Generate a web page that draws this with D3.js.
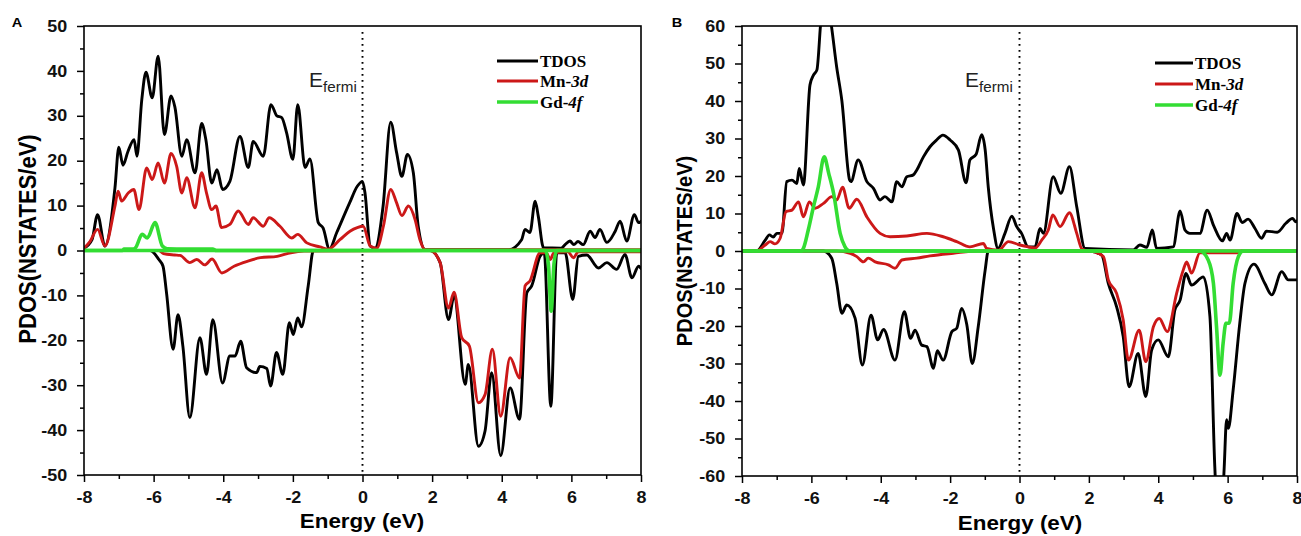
<!DOCTYPE html>
<html><head><meta charset="utf-8">
<script src="https://cdn.jsdelivr.net/npm/d3@7"></script>
<style>body{margin:0;background:#fff}</style>
</head><body><svg id="c" width="1301" height="536"></svg>
<script>
// ---------- data ----------
const energyTicks = [-8,-6,-4,-2,0,2,4,6,8];
const energyMinor = [-7,-5,-3,-1,1,3,5,7];
const yTicksA = [-50,-40,-30,-20,-10,0,10,20,30,40,50];
const yMinorA = [-45,-35,-25,-15,-5,5,15,25,35,45];
const yTicksB = [-60,-50,-40,-30,-20,-10,0,10,20,30,40,50,60];
const yMinorB = [-55,-45,-35,-25,-15,-5,5,15,25,35,45,55];
const seriesNames = ["TDOS","Mn-","Gd-"];
const seriesItalic = ["","3d","4f"];
const seriesColors = ["#000000","#cc1818","#33dd33"];
const panelLetters = ["A","B"];

// Panel A  [energy (eV), PDOS]
const aTdosUp = [[-8,0.5],[-7.77,2.4],[-7.61,8],[-7.4,1],[-7.11,14],[-7.0,23],[-6.88,19],[-6.74,22],[-6.56,24.7],[-6.48,21],[-6.34,33.6],[-6.22,39.7],[-6.04,34],[-5.87,43.3],[-5.69,25.8],[-5.5,34.4],[-5.39,32],[-5.19,21],[-5.05,24.7],[-4.81,17.3],[-4.62,28.3],[-4.5,24.7],[-4.33,15],[-4.18,18],[-4.02,13.6],[-3.81,15.4],[-3.52,25.4],[-3.28,18.5],[-3.14,24.3],[-2.85,21],[-2.63,32.5],[-2.46,30],[-2.32,29.6],[-2.18,26.2],[-2.0,20.3],[-1.86,32.5],[-1.65,18.5],[-1.51,20.4],[-1.27,6.2],[-1.13,5],[-0.95,0.3],[-0.74,4],[-0.37,10.6],[-0.15,14.3],[0.0,15.4],[0.07,12.9],[0.22,1],[0.36,0.5],[0.59,9.8],[0.81,28.6],[0.98,21.8],[1.13,16.5],[1.29,21.4],[1.46,17.3],[1.6,5.4],[1.8,0.2],[4.2,0.2],[4.57,2.4],[4.67,4.7],[4.81,4],[4.96,11],[5.05,7.6],[5.2,0.6],[5.7,0.5],[5.82,1.3],[5.96,2.1],[6.07,1.3],[6.19,2],[6.34,1.3],[6.54,4.3],[6.68,2.9],[6.82,4.7],[7.02,1.8],[7.26,4.3],[7.4,6.5],[7.59,2.1],[7.81,8],[7.93,6.2],[8,6.5]];
const aTdosDn = [[-8,0],[-6.1,0],[-5.85,-2],[-5.73,-3.5],[-5.63,-9.4],[-5.44,-22],[-5.3,-14.3],[-5.16,-21.3],[-4.96,-37.2],[-4.67,-19.4],[-4.48,-27.6],[-4.3,-15.4],[-4.02,-29.5],[-3.81,-23.5],[-3.66,-23.5],[-3.5,-20.2],[-3.33,-26.1],[-3.04,-27.2],[-2.95,-25.8],[-2.75,-26.3],[-2.64,-30.2],[-2.47,-22.7],[-2.29,-27.6],[-2.1,-16.1],[-1.99,-18.7],[-1.86,-15],[-1.75,-17],[-1.56,-7.9],[-1.41,0],[1.94,0],[2.23,-2.7],[2.47,-15.4],[2.63,-10.2],[2.95,-29.8],[3.04,-25.4],[3.33,-43.6],[3.52,-40.2],[3.71,-27.2],[3.97,-45.7],[4.24,-30.6],[4.51,-37.6],[4.72,-9.4],[4.86,-7.9],[5.1,-1.3],[5.22,-0.5],[5.41,-34.7],[5.58,-0.5],[5.82,-0.5],[6.04,-10.9],[6.2,-1.3],[6.44,-1],[6.78,-3.9],[7.02,-2.7],[7.3,-4.2],[7.54,-0.9],[7.74,-6.1],[7.93,-3.5],[8,-4]];
const aMnUp = [[-8,0.5],[-7.83,2],[-7.61,4.7],[-7.4,1],[-7.11,9.9],[-7.02,13.2],[-6.92,11],[-6.73,12.8],[-6.57,13.6],[-6.42,9.1],[-6.2,18.4],[-6.04,15.8],[-5.87,19.5],[-5.69,15],[-5.5,21.6],[-5.34,18.8],[-5.19,12.8],[-5.05,16.2],[-4.81,9.5],[-4.62,17.3],[-4.48,12.8],[-4.33,9.1],[-4.21,9.9],[-4.05,5.1],[-3.81,5.8],[-3.57,8.8],[-3.28,5.8],[-3.14,7.3],[-2.85,5.4],[-2.68,7.3],[-2.37,5.4],[-2.03,2.8],[-1.86,3.6],[-1.6,1.7],[-1.22,0.8],[-0.98,0.3],[-0.65,2.4],[-0.36,4.3],[-0.15,5.1],[0.02,5.4],[0.22,1],[0.41,0.5],[0.6,5.4],[0.81,13.6],[0.98,10.6],[1.13,7.8],[1.32,9.9],[1.51,6.9],[1.65,2.4],[1.8,0.2],[8,0.2]];
const aMnDn = [[-8,0],[-5.85,0],[-5.72,-0.7],[-5.4,-1],[-5.24,-1.1],[-4.96,-2.7],[-4.76,-2],[-4.53,-3.2],[-4.32,-1.9],[-4.04,-5],[-3.69,-3.5],[-3.31,-2.4],[-2.93,-1.6],[-2.45,-1.3],[-2.06,-0.5],[-1.68,-0.15],[1.94,0],[2.23,-2.7],[2.47,-12.8],[2.63,-9.3],[2.85,-19.4],[3.07,-21.3],[3.33,-33.9],[3.52,-32.1],[3.73,-22],[3.97,-36.9],[4.24,-23.9],[4.51,-28.4],[4.67,-7.9],[4.81,-6.8],[5.1,-0.5],[5.28,-0.5],[5.39,-2],[5.5,-0.5],[5.9,-0.3],[6.06,-1.6],[6.2,-0.3],[8,-0.3]];
const aGdUp = [[-8,0],[-6.9,0],[-6.85,0.3],[-6.6,0.3],[-6.52,0.6],[-6.33,3.6],[-6.18,2.8],[-5.96,6.2],[-5.75,1],[-5.61,0.4],[-4.3,0.3],[-4.2,0],[8,0]];
const aGdDn = [[-8,0],[5.25,0],[5.34,-3],[5.42,-13.5],[5.5,-3],[5.58,0],[8,0]];

// Panel B
const bTdosUp = [[-8,0],[-7.57,0.1],[-7.33,2.9],[-7.21,4.3],[-7.1,3.7],[-7.0,4.7],[-6.85,4.7],[-6.71,18.5],[-6.56,18.9],[-6.42,18],[-6.35,22],[-6.23,17.6],[-6.04,44.3],[-5.94,46.9],[-5.84,48.3],[-5.72,62],[-5.6,68],[-5.47,63],[-5.27,49],[-5.12,40],[-4.9,19],[-4.86,18.5],[-4.65,24.3],[-4.4,18.5],[-4.21,16.7],[-4.02,13.6],[-3.88,14.5],[-3.68,13.1],[-3.54,18.5],[-3.39,17.1],[-3.25,19.8],[-3.06,20.3],[-2.96,21.6],[-2.77,25.1],[-2.58,27.8],[-2.39,29.6],[-2.21,30.9],[-2.0,29.6],[-1.76,26.9],[-1.54,18.2],[-1.43,24.3],[-1.25,25.8],[-1.09,31],[-0.99,27],[-0.9,17],[-0.75,6],[-0.62,0.7],[-0.42,4.7],[-0.22,9.3],[-0.08,6.5],[0.06,4.7],[0.25,1.1],[0.45,1.1],[0.59,6],[0.69,4.7],[0.97,19.8],[1.19,15.4],[1.44,22.5],[1.65,11.8],[1.89,0.7],[3.28,0.3],[3.47,1.6],[3.67,1],[3.83,5.6],[3.95,0.7],[4.43,1.1],[4.63,10.7],[4.77,5.6],[4.91,4.7],[5.2,4.7],[5.41,10.9],[5.6,6.7],[5.85,2.7],[5.97,4.7],[6.07,2.9],[6.27,10],[6.42,7.6],[6.59,8.5],[6.79,6],[6.98,3.4],[7.12,5.3],[7.43,5],[7.68,7.4],[7.87,8.7],[7.96,7.8],[8,8]];
const bTdosDn = [[-8,0],[-5.65,0],[-5.41,-2],[-5.27,-8.6],[-5.12,-16.6],[-4.98,-14.4],[-4.74,-17.9],[-4.53,-30.4],[-4.28,-17.1],[-4.09,-23.7],[-3.92,-20.9],[-3.59,-29.1],[-3.32,-16.2],[-3.14,-23.3],[-3.01,-21.1],[-2.82,-25.1],[-2.67,-25.5],[-2.48,-31.3],[-2.37,-26.6],[-2.2,-29.1],[-1.95,-21.5],[-1.81,-20.6],[-1.67,-15.3],[-1.52,-19.6],[-1.36,-30],[-1.19,-20.2],[-0.99,-5.1],[-0.9,0],[2.03,0],[2.37,-1.1],[2.56,-8.6],[2.8,-14.9],[2.99,-22.8],[3.16,-36.2],[3.42,-27.3],[3.64,-38.8],[3.81,-26.4],[4.0,-23.7],[4.29,-28.2],[4.48,-15.7],[4.63,-13.1],[4.8,-6],[4.96,-9.1],[5.3,-6.9],[5.49,-17.5],[5.63,-57.5],[5.72,-72],[5.82,-72],[5.9,-58],[5.97,-45],[6.02,-47.3],[6.16,-37],[6.35,-19.3],[6.5,-8.6],[6.76,-3.5],[7.07,-8.6],[7.27,-11.7],[7.56,-5.5],[7.75,-7.7],[8,-7.7]];
const bMnUp = [[-8,0],[-7.57,0.1],[-7.33,1.6],[-7.19,2.5],[-7.05,1.9],[-6.9,3.4],[-6.73,10.5],[-6.56,10.9],[-6.37,13.1],[-6.23,9.1],[-6.06,13.1],[-5.89,11.4],[-5.65,12.7],[-5.41,14.5],[-5.27,13.6],[-5.1,17],[-4.91,11.4],[-4.69,13.8],[-4.4,9.1],[-4.02,4.7],[-3.73,3.8],[-3.25,4],[-2.67,4.7],[-2.2,3.8],[-1.81,2.5],[-1.43,1.1],[-1.04,2],[-0.95,0.7],[-0.6,0.2],[-0.32,2.5],[0.01,1.6],[0.25,1.1],[0.45,0.8],[0.64,2.9],[0.83,5.6],[0.96,9.6],[1.17,6.5],[1.44,10.2],[1.65,4.7],[1.8,0.5],[2.0,0],[8,0]];
const bMnDn = [[-8,0],[-5.27,0],[-4.88,-0.6],[-4.69,-1.5],[-4.5,-2.9],[-4.36,-1.9],[-4.16,-2.9],[-3.78,-3.7],[-3.59,-4.6],[-3.39,-2.4],[-2.96,-1.9],[-2.58,-1.3],[-1.91,-0.6],[-1.2,0],[2.03,0],[2.42,-1.5],[2.56,-7.7],[2.8,-11.3],[2.99,-18.4],[3.14,-29.1],[3.45,-21.1],[3.64,-29.5],[3.86,-20.2],[4.03,-18],[4.26,-21.5],[4.53,-11.3],[4.72,-5.1],[4.82,-2.9],[4.96,-5.9],[5.2,-0.5],[6.3,-0.5],[6.4,0],[8,0]];
const bGdUp = [[-8,0],[-6.3,0],[-6.23,0.7],[-6.09,5.6],[-5.94,11.8],[-5.8,17.1],[-5.63,25.1],[-5.5,20.7],[-5.36,15.4],[-5.17,4.7],[-5.03,1.1],[-4.9,0],[8,0]];
const bGdDn = [[-8,0],[5.2,0],[5.44,-2.4],[5.59,-8.6],[5.68,-20.2],[5.78,-33.1],[5.87,-24.6],[5.95,-19.3],[6.05,-19.2],[6.16,-8.6],[6.31,-1.5],[6.45,0],[8,0]];

// ---------- drawing ----------
const svg = d3.select("#c");
const SX = 1.12; // horizontal stretch of text in reference
const sans = "'Liberation Sans', Arial, sans-serif";
const serif = "'Liberation Serif', 'Times New Roman', serif";

const panels = [
  {id:"A", x0:84, x1:641, y0:26, y1:475, dom:[-50,50], ticks:yTicksA, minor:yMinorA,
   series:[[aTdosUp,aTdosDn],[aMnUp,aMnDn],[aGdUp,aGdDn]],
   letter:[17,27], ylab:[36,239,22], xlab:[362,528], ef:[309,87], leg:[497,538,[61,81,102]]},
  {id:"B", x0:742, x1:1297, y0:26, y1:476, dom:[-60,60], ticks:yTicksB, minor:yMinorB,
   series:[[bTdosUp,bTdosDn],[bMnUp,bMnDn],[bGdUp,bGdDn]],
   letter:[677,27], ylab:[692,251,20], xlab:[1020,530], ef:[965,87], leg:[1155,1193,[63,84,105]]}
];

function stretchText(sel, x, y, txt, size, weight, anchor, fam){
  return sel.append("text")
    .attr("transform", `translate(${x},${y}) scale(${SX},1)`)
    .attr("text-anchor", anchor).attr("font-family", fam||sans)
    .attr("font-size", size).attr("font-weight", weight).text(txt);
}

panels.forEach((p, pi) => {
  const g = svg.append("g");
  const x = d3.scaleLinear().domain([-8,8]).range([p.x0,p.x1]);
  const y = d3.scaleLinear().domain(p.dom).range([p.y1,p.y0]);

  const clipId = "clip"+p.id;
  svg.append("clipPath").attr("id",clipId).append("rect")
    .attr("x",p.x0).attr("y",p.y0).attr("width",p.x1-p.x0).attr("height",p.y1-p.y0);

  // dotted Fermi line
  g.append("line").attr("x1",x(0)).attr("x2",x(0)).attr("y1",p.y0+6).attr("y2",p.y1)
    .attr("stroke","#000").attr("stroke-width",1.9).attr("stroke-dasharray","1.8,4.2");

  // curves
  const line = d3.line().x(d=>x(d[0])).y(d=>y(d[1])).curve(d3.curveMonotoneX);
  const cg = g.append("g").attr("clip-path",`url(#${clipId})`);
  const widths = [2.9,2.9,3.6];
  p.series.forEach((pair, si) => {
    pair.forEach(arr => {
      cg.append("path").attr("d", line(arr)).attr("fill","none")
        .attr("stroke", seriesColors[si]).attr("stroke-width", widths[si])
        .attr("stroke-linejoin","round").attr("stroke-linecap","round");
    });
  });

  // axes
  const fmt = d => String(d);
  const xAx = g.append("g").attr("transform",`translate(0,${p.y1})`)
    .call(d3.axisBottom(x).tickValues(energyTicks).tickSize(7).tickPadding(10).tickFormat(fmt));
  g.append("g").attr("transform",`translate(0,${p.y1})`)
    .call(d3.axisBottom(x).tickValues(energyMinor).tickSize(4).tickFormat(""));
  const yAx = g.append("g").attr("transform",`translate(${p.x0},0)`)
    .call(d3.axisLeft(y).tickValues(p.ticks).tickSize(7).tickPadding(8).tickFormat(fmt));
  g.append("g").attr("transform",`translate(${p.x0},0)`)
    .call(d3.axisLeft(y).tickValues(p.minor).tickSize(4).tickFormat(""));
  g.selectAll(".domain").remove();
  g.selectAll(".tick line").attr("stroke","#000").attr("stroke-width",1.5);
  g.selectAll(".tick text").attr("font-family",sans).attr("font-weight","bold")
    .attr("font-size",16).attr("fill","#111");
  xAx.selectAll(".tick text").attr("transform",`scale(${SX},1)`);
  yAx.selectAll(".tick text").attr("transform",`scale(${SX},1)`);

  // frame
  g.append("rect").attr("x",p.x0).attr("y",p.y0).attr("width",p.x1-p.x0).attr("height",p.y1-p.y0)
    .attr("fill","none").attr("stroke","#000").attr("stroke-width",1.6);

  // titles
  stretchText(g, p.xlab[0], p.xlab[1], "Energy (eV)", 20, "bold", "middle");
  g.append("text").attr("transform",`translate(${p.ylab[0]},${p.ylab[1]}) rotate(-90) scale(1,${SX})`)
    .attr("text-anchor","middle").attr("font-family",sans).attr("font-weight","bold")
    .attr("font-size",p.ylab[2]).text("PDOS(NSTATES/eV)");
  stretchText(g, p.letter[0], p.letter[1], panelLetters[pi], 13, "bold", "middle");

  // E_fermi
  const ef = g.append("text").attr("transform",`translate(${p.ef[0]},${p.ef[1]}) scale(1.05,1)`)
    .attr("font-family",sans).attr("font-size",20).attr("fill","#222");
  ef.append("tspan").text("E");
  ef.append("tspan").attr("font-size",14.5).attr("dy",5).text("fermi");

  // legend
  seriesNames.forEach((nm, si) => {
    const ly = p.leg[2][si];
    g.append("line").attr("x1",p.leg[0]).attr("x2",p.leg[1]).attr("y1",ly).attr("y2",ly)
      .attr("stroke",seriesColors[si]).attr("stroke-width",si===2?3.6:3);
    const t = g.append("text").attr("x",p.leg[1]+2).attr("y",ly+5.5)
      .attr("font-family",serif).attr("font-weight","bold").attr("font-size",17);
    t.append("tspan").text(nm);
    if (seriesItalic[si]) t.append("tspan").attr("font-style","italic").text(seriesItalic[si]);
  });
});
</script>
</body></html>
